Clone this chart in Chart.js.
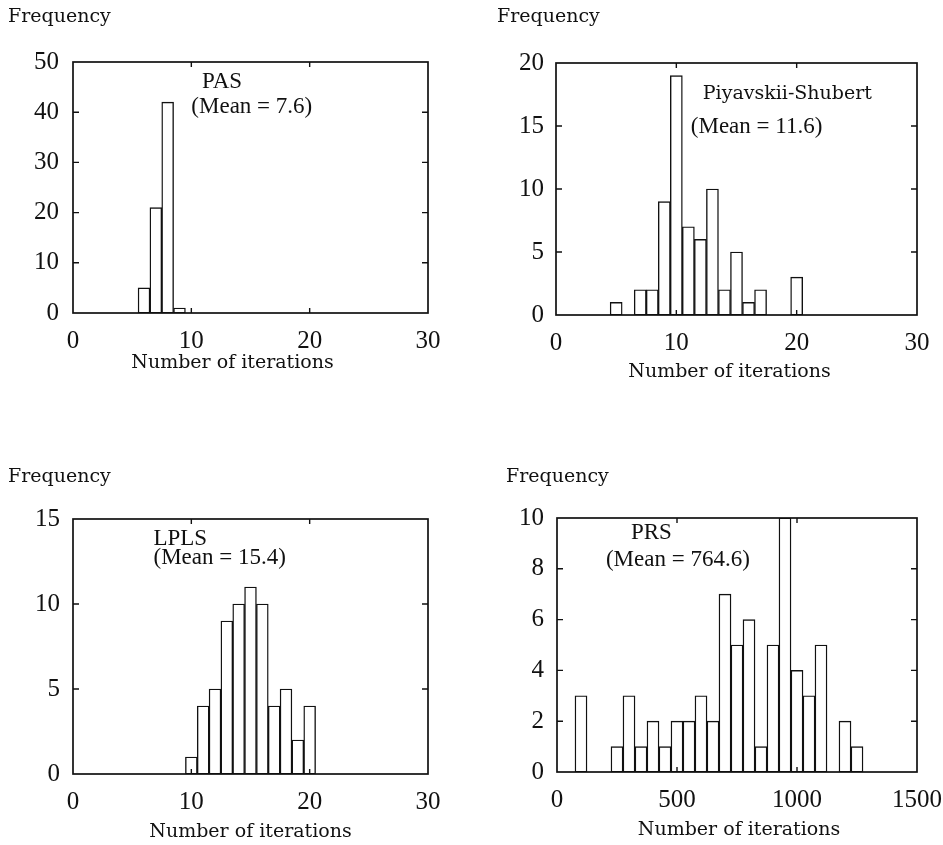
<!DOCTYPE html>
<html>
<head>
<meta charset="utf-8">
<script src="https://cdn.jsdelivr.net/npm/chart.js@4.4.0/dist/chart.umd.min.js"></script>
<style>
  html, body { margin: 0; padding: 0; background: #fff; }
  .panel { position: absolute; }
</style>
</head>
<body>
<div class="panel" style="left:0;top:0"><canvas id="c1" width="470" height="400"></canvas></div>
<div class="panel" style="left:470px;top:0"><canvas id="c2" width="473" height="400"></canvas></div>
<div class="panel" style="left:0;top:420px"><canvas id="c3" width="470" height="425"></canvas></div>
<div class="panel" style="left:470px;top:420px"><canvas id="c4" width="473" height="425"></canvas></div>
<script>
// PAS
const pasIter = [6, 7, 8, 9];
const pasFreq = [5, 21, 42, 1];

// Piyavskii-Shubert
const psIter = [5, 6, 7, 8, 9, 10, 11, 12, 13, 14, 15, 16, 17, 18, 19, 20];
const psFreq = [1, 0, 2, 2, 9, 19, 7, 6, 10, 2, 5, 1, 2, 0, 0, 3];

// LPLS
const lplsIter = [10, 11, 12, 13, 14, 15, 16, 17, 18, 19, 20];
const lplsFreq = [1, 4, 5, 9, 10, 11, 10, 4, 5, 2, 4];

// PRS
const prsIter = [100, 250, 300, 350, 400, 450, 500, 550, 600, 650, 700, 750, 800, 850, 900, 950, 1000, 1050, 1100, 1150, 1200, 1250];
const prsFreq = [3, 1, 3, 1, 2, 1, 2, 2, 3, 2, 7, 5, 6, 1, 5, 10, 4, 3, 5, 0, 2, 1];

const INK = '#111';
Chart.defaults.font.family = '"Liberation Serif", serif';
Chart.defaults.color = INK;
const noteFont = '23px "Liberation Serif"';
const labelFont = '19px "DejaVu Serif"';

// box round the plot with small inward ticks on all four sides
const framePlugin = {
  id: 'frame',
  afterDatasetsDraw(chart) {
    const { ctx, chartArea: a, scales: { x, y } } = chart;
    ctx.save();
    ctx.strokeStyle = INK;
    ctx.lineWidth = 1.7;
    ctx.strokeRect(a.left, a.top, a.right - a.left, a.bottom - a.top);
    ctx.lineWidth = 1.4;
    ctx.beginPath();
    y.ticks.forEach((t) => {
      const py = y.getPixelForValue(t.value);
      if (py <= a.top + 1 || py >= a.bottom - 1) return;
      ctx.moveTo(a.left, py); ctx.lineTo(a.left + 6, py);
      ctx.moveTo(a.right, py); ctx.lineTo(a.right - 6, py);
    });
    x.ticks.forEach((t) => {
      const px = x.getPixelForValue(t.value);
      if (px <= a.left + 1 || px >= a.right - 1) return;
      ctx.moveTo(px, a.bottom); ctx.lineTo(px, a.bottom - 5);
      ctx.moveTo(px, a.top); ctx.lineTo(px, a.top + 5);
    });
    ctx.stroke();
    ctx.restore();
  }
};

const textPlugin = {
  id: 'texts',
  afterDraw(chart, args, opts) {
    const { ctx, chartArea: a, scales: { x, y } } = chart;
    ctx.save();
    ctx.fillStyle = INK;
    ctx.textBaseline = 'middle';
    ctx.font = labelFont;
    ctx.textAlign = 'left';
    ctx.fillText('Frequency', opts.freqX, opts.freqY);
    ctx.textAlign = 'center';
    ctx.fillText('Number of iterations', (a.left + a.right) / 2 + opts.titleDx, a.bottom + opts.titleDy);
    ctx.textAlign = 'left';
    (opts.notes || []).forEach((n) => {
      ctx.font = n.font || noteFont;
      ctx.fillText(n.text, x.getPixelForValue(n.x), y.getPixelForValue(n.y));
    });
    ctx.restore();
  }
};

function makeHist(id, iters, freqs, o) {
  const tickFont = { family: '"Liberation Serif", serif', size: 25 };
  return new Chart(document.getElementById(id), {
    type: 'bar',
    data: {
      datasets: [{
        data: iters.map((v, i) => ({ x: v, y: freqs[i] })),
        backgroundColor: '#fff',
        borderColor: INK,
        borderWidth: 1.4,
        borderSkipped: false,
        barPercentage: 1,
        categoryPercentage: 1
      }]
    },
    options: {
      responsive: false,
      animation: false,
      layout: { padding: { top: o.top, right: o.right, bottom: o.bottom, left: 0 } },
      plugins: {
        legend: { display: false },
        tooltip: { enabled: false },
        texts: { freqX: o.freqX, freqY: o.freqY, titleDx: o.titleDx, titleDy: o.titleDy, notes: o.notes }
      },
      scales: {
        x: {
          type: 'linear',
          offset: false,
          min: 0,
          max: o.xMax,
          grid: { display: false },
          border: { display: false },
          ticks: { stepSize: o.xStep, padding: 5, font: tickFont, color: INK, maxRotation: 0, callback: (v) => String(v) },
          afterFit: (s) => { s.height = 40; s.paddingLeft = 0; s.paddingRight = 0; }
        },
        y: {
          min: 0,
          max: o.yMax,
          grid: { display: false },
          border: { display: false },
          ticks: { stepSize: o.yStep, padding: o.yPad, font: tickFont, color: INK, callback: (v) => String(v) },
          afterFit: (s) => { s.width = o.yWidth; s.paddingTop = 0; s.paddingBottom = 0; }
        }
      }
    },
    plugins: [framePlugin, textPlugin]
  });
}

makeHist('c1', pasIter, pasFreq, {
  xMax: 30, xStep: 10, yMax: 50, yStep: 10,
  top: 62, right: 42, bottom: 47, yWidth: 73, yPad: 6,
  freqX: 8, freqY: 17, titleDx: -18, titleDy: 50,
  notes: [
    { text: 'PAS', x: 10.9, y: 46.1 },
    { text: '(Mean = 7.6)', x: 10.0, y: 41.0 }
  ]
});

makeHist('c2', psIter, psFreq, {
  xMax: 30, xStep: 10, yMax: 20, yStep: 5,
  top: 63, right: 26, bottom: 45, yWidth: 86, yPad: 4,
  freqX: 27, freqY: 17, titleDx: -7, titleDy: 57,
  notes: [
    { text: 'Piyavskii-Shubert', x: 12.2, y: 17.5, font: labelFont },
    { text: '(Mean = 11.6)', x: 11.2, y: 14.9 }
  ]
});

makeHist('c3', lplsIter, lplsFreq, {
  xMax: 30, xStep: 10, yMax: 15, yStep: 5,
  top: 99, right: 42, bottom: 31, yWidth: 73, yPad: 5,
  freqX: 8, freqY: 57, titleDx: 0, titleDy: 58,
  notes: [
    { text: 'LPLS', x: 6.8, y: 13.8 },
    { text: '(Mean = 15.4)', x: 6.8, y: 12.7 }
  ]
});

makeHist('c4', prsIter, prsFreq, {
  xMax: 1500, xStep: 500, yMax: 10, yStep: 2,
  top: 98, right: 26, bottom: 33, yWidth: 87, yPad: 5,
  freqX: 36, freqY: 57, titleDx: 2, titleDy: 58,
  notes: [
    { text: 'PRS', x: 308, y: 9.4 },
    { text: '(Mean = 764.6)', x: 204, y: 8.36 }
  ]
});
</script>
</body>
</html>
